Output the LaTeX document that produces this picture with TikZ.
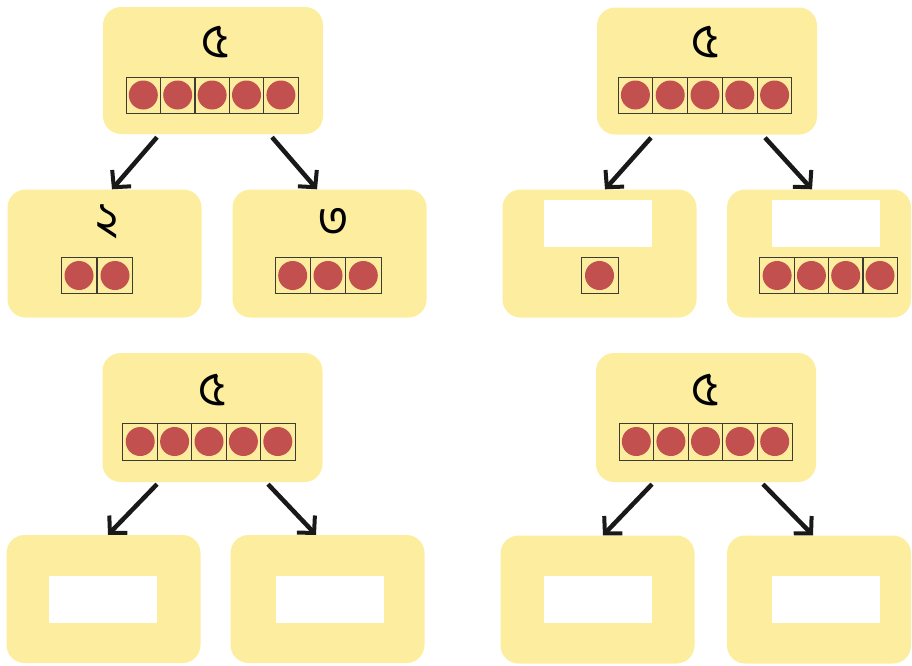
\documentclass[tikz,border=0pt]{standalone}
\usepackage{xcolor}
\usepackage{tikz}
\usepackage{fontspec}
\usetikzlibrary{arrows.meta, positioning, calc}
\newfontfamily\bnfont[Script=Bengali]{Hind Siliguri}
\definecolor{boxcolor}{RGB}{252,238,158}
\definecolor{dotcolor}{RGB}{194,80,78}
\definecolor{cellline}{RGB}{60,60,50}

\begin{document}
\begin{tikzpicture}[
    x=1pt, y=-1pt,
    parent/.style={fill=boxcolor, rounded corners=18pt, minimum width=220pt, minimum height=127pt, inner sep=0pt},
    child/.style={fill=boxcolor, rounded corners=18pt, minimum width=194pt, minimum height=128pt, inner sep=0pt},
    blank/.style={fill=white, minimum width=108pt, minimum height=47pt, inner sep=0pt},
    digit/.style={font=\bnfont\fontsize{48}{52}\selectfont, inner sep=0pt},
    cell/.style={draw=cellline, line width=0.9pt, minimum width=34.6pt, minimum height=36pt, inner sep=0pt,
        path picture={\fill[dotcolor] (path picture bounding box.center) circle (14.5pt);}},
    link/.style={-{Straight Barb[length=12pt, width=25pt, line width=4pt]}, line width=4.5pt, black!90}
]
    \useasboundingbox (0,0) rectangle (912,665);

    % Top left: 5 split into 2 and 3
    \node[parent] (tlp) at (213,70.5) {};
    \node[digit] (tlpd) at (215,42) {৫};
    \foreach \i in {0,...,4} \node[cell] (tlpc\i) at (143.3+34.4*\i,95) {};
    \node[child] (tll) at (104.5,253.5) {};
    \node[digit] (tlld) at (107,222) {২};
    \foreach \i in {0,1} \node[cell] (tllc\i) at (79+36*\i,275.5) {};
    \node[child] (tlr) at (329.5,253.5) {};
    \node[digit] (tlrd) at (333,222) {৩};
    \foreach \i in {0,1,2} \node[cell, minimum width=35.3pt] (tlrc\i) at (292.7+35.3*\i,275.5) {};
    \draw[link] ([xshift=-56pt, yshift=-3pt]tlp.south) -- ([xshift=7.5pt]tll.north);
    \draw[link] ([xshift=59pt, yshift=-3pt]tlp.south) -- ([xshift=-12.5pt]tlr.north);

    % Top right: 5 split into 1 and 4
    \node[parent] (trp) at (707,71) {};
    \node[digit] (trpd) at (705,42) {৫};
    \foreach \i in {0,...,4} \node[cell] (trpc\i) at (635.4+34.8*\i,95) {};
    \node[child] (trl) at (599.5,253.5) {};
    \node[blank] (trlb) at (598,223.5) {};
    \node[cell, minimum width=37pt] (trlc0) at (599.5,275.5) {};
    \node[child, minimum width=184pt] (trr) at (819,253.5) {};
    \node[blank] (trrb) at (826,223.5) {};
    \foreach \i in {0,...,3} \node[cell] (trrc\i) at (777.1+34.3*\i,275.5) {};
    \draw[link] ([xshift=-56pt, yshift=-3pt]trp.south) -- ([xshift=5.5pt]trl.north);
    \draw[link] ([xshift=58pt, yshift=-3pt]trp.south) -- ([xshift=-7pt]trr.north);

    % Bottom left: empty parts
    \node[parent, minimum height=129pt] (blp) at (212.5,417.5) {};
    \node[digit] (blpd) at (212,390) {৫};
    \foreach \i in {0,...,4} \node[cell, minimum height=37pt] (blpc\i) at (140.2+34.4*\i,441.5) {};
    \node[child] (bll) at (103.5,599) {};
    \node[blank] (bllb) at (102.5,599) {};
    \node[child] (blr) at (327.5,599) {};
    \node[blank] (blrb) at (329.5,599) {};
    \draw[link] ([xshift=-55.5pt, yshift=-2pt]blp.south) -- ([xshift=4.5pt]bll.north);
    \draw[link] ([xshift=55.5pt, yshift=-2pt]blp.south) -- ([xshift=-11.5pt]blr.north);

    % Bottom right: empty parts
    \node[parent, minimum height=129pt] (brp) at (706,417.5) {};
    \node[digit] (brpd) at (705,390) {৫};
    \foreach \i in {0,...,4} \node[cell, minimum height=37pt] (brpc\i) at (636.3+34.6*\i,441.5) {};
    \node[child] (brl) at (597.5,599.5) {};
    \node[blank] (brlb) at (598,599) {};
    \node[child, minimum width=184pt] (brr) at (819,599.5) {};
    \node[blank] (brrb) at (826,599) {};
    \draw[link] ([xshift=-54pt, yshift=-2pt]brp.south) -- ([xshift=5.5pt]brl.north);
    \draw[link] ([xshift=57pt, yshift=-2pt]brp.south) -- ([xshift=-6pt]brr.north);
\end{tikzpicture}
\end{document}
